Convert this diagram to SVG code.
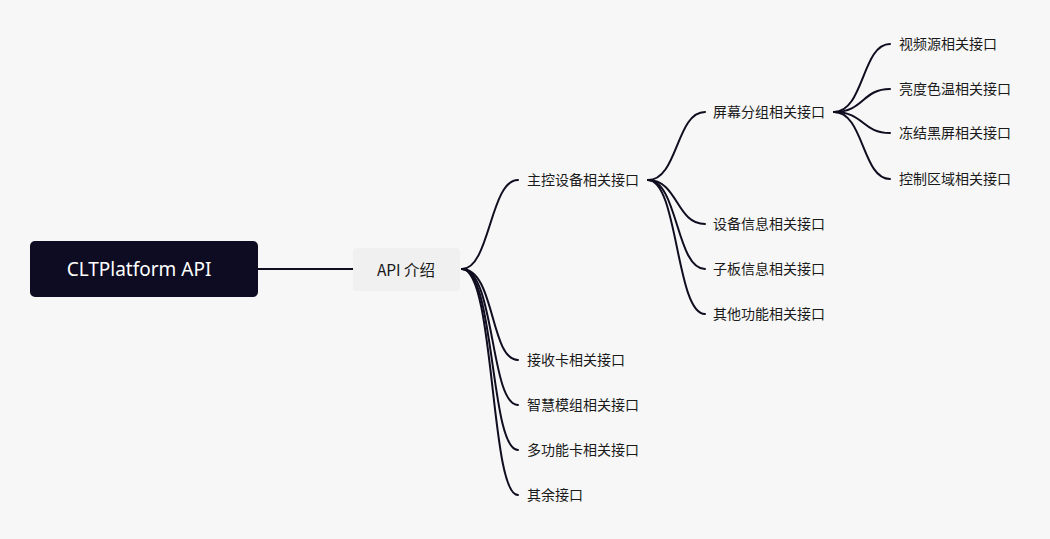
<svg xmlns="http://www.w3.org/2000/svg" width="1050" height="539" viewBox="0 0 1050 539">
<style>
.c{fill:none;stroke:#0f0d1f;stroke-width:2;stroke-linecap:round}
.t{font-family:"Noto Sans CJK SC","Noto Sans",sans-serif;font-size:14px;fill:#1a1a1a;dominant-baseline:central}
</style>
<rect width="1050" height="539" fill="#f7f7f7"/>
<g id="connectors">
<path class="c" d="M258,269 H353"/>
<path class="c" d="M462,269 C490,269 490,180 518,180"/>
<path class="c" d="M462,269 C495,269 490,360 518,360"/>
<path class="c" d="M462,269 C495,269 490,405 518,405"/>
<path class="c" d="M462,269 C495,269 490,450 518,450"/>
<path class="c" d="M462,269 C495,269 490,495 518,495"/>
<path class="c" d="M648,180 C678,180 676,112 705,112"/>
<path class="c" d="M648,180 C678,180 676,224 705,224"/>
<path class="c" d="M648,180 C678,180 676,269 705,269"/>
<path class="c" d="M648,180 C678,180 676,314 705,314"/>
<path class="c" d="M834,112 C864,112 862,44 890,44"/>
<path class="c" d="M834,112 C864,112 862,89 890,89"/>
<path class="c" d="M834,112 C864,112 862,133 890,133"/>
<path class="c" d="M834,112 C864,112 862,179 890,179"/>
</g>
<g id="root"><rect x="30" y="241" width="228" height="56" rx="5" fill="#0d0c22"/><text x="139" y="269" text-anchor="middle" style="font-family:'Noto Sans',sans-serif;font-size:19px;fill:#fff;dominant-baseline:central">CLTPlatform API</text></g>
<g id="api"><rect x="353" y="248" width="107" height="43" rx="4" fill="#f0f0f0"/><text x="406" y="269" text-anchor="middle" class="t" style="font-size:15.5px">API 介绍</text></g>
<g id="n1"><text class="t" x="527" y="179">主控设备相关接口</text></g>
<g id="n2"><text class="t" x="527" y="359">接收卡相关接口</text></g>
<g id="n3"><text class="t" x="527" y="404">智慧模组相关接口</text></g>
<g id="n4"><text class="t" x="527" y="449">多功能卡相关接口</text></g>
<g id="n5"><text class="t" x="527" y="494">其余接口</text></g>
<g id="n11"><text class="t" x="713" y="111">屏幕分组相关接口</text></g>
<g id="n12"><text class="t" x="713" y="223">设备信息相关接口</text></g>
<g id="n13"><text class="t" x="713" y="268">子板信息相关接口</text></g>
<g id="n14"><text class="t" x="713" y="313">其他功能相关接口</text></g>
<g id="n111"><text class="t" x="899" y="43">视频源相关接口</text></g>
<g id="n112"><text class="t" x="899" y="88">亮度色温相关接口</text></g>
<g id="n113"><text class="t" x="899" y="132">冻结黑屏相关接口</text></g>
<g id="n114"><text class="t" x="899" y="178">控制区域相关接口</text></g>
</svg>
